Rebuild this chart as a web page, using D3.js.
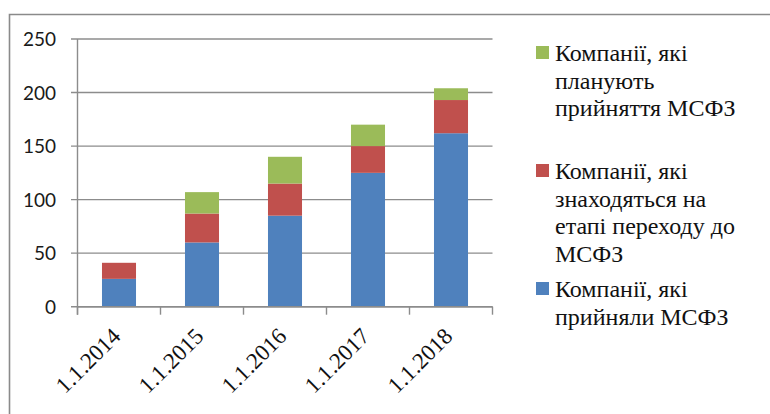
<!DOCTYPE html>
<html>
<head>
<meta charset="utf-8">
<script src="https://cdn.jsdelivr.net/npm/d3@7"></script>
</head>
<body style="margin:0">
<svg id="chart" width="770" height="414"></svg>
<script>
// ---- data ----
const categories = ["1.1.2014", "1.1.2015", "1.1.2016", "1.1.2017", "1.1.2018"];
const adopted    = [26, 60, 85, 125, 162];   // Компанії, які прийняли МСФЗ
const transition = [15, 27, 30, 25, 31];     // Компанії, які знаходяться на етапі переходу до МСФЗ
const planning   = [0, 20, 25, 20, 11];      // Компанії, які планують прийняття МСФЗ
const yTicks     = [0, 50, 100, 150, 200, 250];

const seriesNames = ["adopted", "transition", "planning"];
const seriesColors = { adopted: "#4f81bd", transition: "#c0504d", planning: "#9bbb59" };
const legendItems = [
  { key: "planning",   lines: ["Компанії, які", "планують", "прийняття МСФЗ"] },
  { key: "transition", lines: ["Компанії, які", "знаходяться на", "етапі переходу до", "МСФЗ"] },
  { key: "adopted",    lines: ["Компанії, які", "прийняли МСФЗ"] }
];

const SERIF = "Times New Roman";
const SANS = "Lato";
const rows = categories.map((c, i) => ({
  cat: c, adopted: adopted[i], transition: transition[i], planning: planning[i]
}));

const svg = d3.select("#chart");

// frame
svg.append("path")
  .attr("d", "M9.5,420 L9.5,14.5 L775,14.5")
  .attr("fill", "none").attr("stroke", "#8a8a8a").attr("stroke-width", 1.6);

const pLeft = 77.5, pRight = 492.5, pTop = 39, pBottom = 306.7;

const x = d3.scaleBand().domain(categories).range([pLeft, pRight])
  .paddingInner(0.59).paddingOuter(0.295);
const y = d3.scaleLinear().domain([0, 250]).range([pBottom, pTop]);

// gridlines + y ticks
svg.append("g").selectAll("line").data(yTicks).join("line")
  .attr("x1", pLeft - 6.5).attr("x2", pRight)
  .attr("y1", d => y(d)).attr("y2", d => y(d))
  .attr("stroke", "#8c8c8c").attr("stroke-width", 1.4);

// y axis labels
svg.append("g").selectAll("text").data(yTicks).join("text")
  .attr("x", 56).attr("y", d => y(d) + 7)
  .attr("text-anchor", "end")
  .attr("font-family", SANS).attr("font-size", 19)
  .attr("fill", "#1a1a1a").text(d => d);

// y axis line
svg.append("line").attr("x1", pLeft).attr("x2", pLeft).attr("y1", pTop).attr("y2", pBottom + 8)
  .attr("stroke", "#8c8c8c").attr("stroke-width", 1.4);

// stacked bars
const stack = d3.stack().keys(seriesNames)(rows);
svg.append("g").selectAll("g").data(stack).join("g")
  .attr("fill", d => seriesColors[d.key])
  .selectAll("rect").data(d => d).join("rect")
  .attr("x", d => x(d.data.cat))
  .attr("width", x.bandwidth())
  .attr("y", d => y(d[1]))
  .attr("height", d => y(d[0]) - y(d[1]));

// x axis line and category boundary ticks
svg.append("line").attr("x1", pLeft).attr("x2", pRight).attr("y1", pBottom).attr("y2", pBottom)
  .attr("stroke", "#8c8c8c").attr("stroke-width", 1.4);
const boundaries = categories.map(c => x(c) - x.step() * x.paddingInner() / 2).concat([pRight]);
svg.append("g").selectAll("line").data(boundaries).join("line")
  .attr("x1", d => d).attr("x2", d => d).attr("y1", pBottom).attr("y2", pBottom + 8)
  .attr("stroke", "#8c8c8c").attr("stroke-width", 1.4);

// x labels rotated
svg.append("g").selectAll("text").data(categories).join("text")
  .attr("transform", d => `translate(${x(d) + x.bandwidth() / 2 + 3},${pBottom + 31}) rotate(-45)`)
  .attr("text-anchor", "end")
  .attr("font-family", SERIF).attr("font-size", 23)
  .attr("fill", "#111").text(d => d);

// legend
const legendBase = 61, legendStep = 118, lineH = 27.5;
legendItems.forEach((it, i) => {
  const by = legendBase + i * legendStep;
  svg.append("rect").attr("x", 536).attr("y", by - 15).attr("width", 13).attr("height", 13)
    .attr("fill", seriesColors[it.key]);
  it.lines.forEach((ln, j) => {
    svg.append("text").attr("x", 555).attr("y", by + j * lineH)
      .attr("font-family", SERIF)
      .attr("font-size", 24).attr("fill", "#111").text(ln);
  });
});
</script>
</body>
</html>
